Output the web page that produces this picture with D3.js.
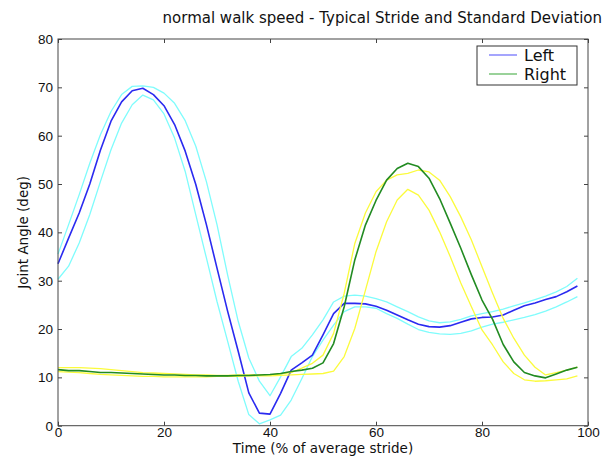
<!DOCTYPE html>
<html>
<head>
<meta charset="utf-8">
<script src="https://cdn.jsdelivr.net/npm/d3@7"></script>
<style>
    body { margin: 0; background: #fff; }
    svg { display: block; font-family: "DejaVu Sans", sans-serif; }
    .frame { fill: none; stroke: #444; stroke-width: 1; }
    .tick-label { font-size: 13.5px; fill: #111; }
    .series { fill: none; stroke-linejoin: round; }
</style>
</head>
<body>
<script>
// Stride samples, every 2 % of the stride
const stride = d3.range(0, 100, 2);

const leftMean = [33.5, 38.8, 44, 50, 57, 63, 67, 69.3, 69.8, 68.5, 66.2, 62.3, 56.8, 49.9, 41.6, 32.6, 23.7, 15.4, 6.8, 2.6,
    2.4, 6.7, 11.5, 13, 14.6, 18.8, 23.2, 25.3, 25.3, 25.2, 24.7, 23.9, 22.9, 21.9, 21, 20.5, 20.4, 20.7, 21.4, 22.1,
    22.4, 22.5, 22.9, 23.9, 24.8, 25.4, 26.1, 26.7, 27.7, 28.9];
const leftUpper = [35.5, 41.6, 47.8, 54.3, 60.2, 65, 68.5, 70.2, 70.3, 70, 68.8, 66.7, 63.1, 57.8, 50.5, 41.6, 31.2, 21.6, 14, 9.2,
    6.2, 10.1, 14.3, 16, 18.8, 21.9, 25.6, 26.8, 27, 26.8, 26.3, 25.6, 24.6, 23.6, 22.5, 21.7, 21.3, 21.5, 22, 22.7,
    23.2, 23.6, 24.1, 24.8, 25.4, 26.1, 26.8, 27.7, 28.8, 30.5];
const leftLower = [30.3, 33, 37.8, 43.7, 50.5, 57.1, 62.6, 66.4, 68.4, 67.4, 64.5, 59.5, 52.6, 43.6, 34.7, 25.7, 17.5, 9.2, 2.3, 0.4,
    1.2, 2.2, 5.3, 9.7, 14.3, 17.7, 20.8, 23.6, 24.6, 24.6, 24.3, 23.2, 22.2, 21, 19.9, 19.3, 19, 18.9, 19.1, 19.6,
    20.4, 21, 21.4, 21.9, 22.4, 23, 23.7, 24.6, 25.6, 26.7];

const rightMean = [11.6, 11.4, 11.4, 11.2, 11, 11, 10.9, 10.8, 10.7, 10.6, 10.5, 10.5, 10.4, 10.4, 10.3, 10.3, 10.3, 10.4, 10.4, 10.5,
    10.6, 10.8, 11.2, 11.5, 11.9, 13, 17, 24.6, 34.3, 41.5, 46.6, 50.8, 53.2, 54.3, 53.6, 51.2, 47, 41.9, 36.7, 31.2,
    26, 22, 16.8, 13.2, 11, 10.3, 9.9, 10.7, 11.5, 12.1];
const rightUpper = [12, 12, 12, 11.9, 11.8, 11.6, 11.4, 11.2, 11, 10.9, 10.8, 10.7, 10.6, 10.5, 10.5, 10.4, 10.4, 10.5, 10.5, 10.5,
    10.5, 10.7, 11, 11.9, 12.9, 14.6, 19.1, 27.4, 37.7, 44, 48.4, 50.8, 51.9, 52.2, 52.9, 52.5, 50.8, 47.4, 43.2, 38.4,
    32.9, 27.4, 22.2, 18.1, 14.6, 12.1, 10.5, 11, 11.5, 12.1];
const rightLower = [11.2, 11.1, 11, 10.8, 10.6, 10.5, 10.4, 10.3, 10.2, 10.2, 10.1, 10.1, 10.1, 10.1, 10.1, 10.2, 10.2, 10.2, 10.3, 10.3,
    10.3, 10.4, 10.5, 10.6, 10.7, 10.8, 11.3, 14.3, 20.1, 28, 36, 42.2, 46.7, 48.9, 47.7, 44.6, 40.1, 35, 29.5, 24.6,
    19.8, 16.7, 13.2, 10.8, 9.5, 9.2, 9.3, 9.5, 9.7, 10.3];

const xTicks = [0, 20, 40, 60, 80, 100];
const yTicks = [0, 10, 20, 30, 40, 50, 60, 70, 80];

const TITLE = "normal walk speed - Typical Stride and Standard Deviation";

const W = 611, H = 456;
const M = { left: 58, right: 588, top: 39, bottom: 425.7 };

const svg = d3.select("body").append("svg")
    .attr("width", W)
    .attr("height", H);

const x = d3.scaleLinear().domain([0, 100]).range([M.left, M.right]);
const y = d3.scaleLinear().domain([0, 80]).range([M.bottom, M.top]);

// lines: bands first, means on top
const series = [
    { values: leftUpper, color: "#7ffcfc", width: 1.3 },
    { values: leftLower, color: "#7ffcfc", width: 1.3 },
    { values: leftMean, color: "#2a2af0", width: 1.6 },
    { values: rightUpper, color: "#fbfb3c", width: 1.3 },
    { values: rightLower, color: "#fbfb3c", width: 1.3 },
    { values: rightMean, color: "#228b22", width: 1.6 }
];

const line = d3.line()
    .x((d, i) => x(stride[i]))
    .y(d => y(d));

svg.append("g")
    .selectAll("path")
    .data(series)
    .join("path")
    .attr("class", "series")
    .attr("stroke", d => d.color)
    .attr("stroke-width", d => d.width)
    .attr("d", d => line(d.values));

// axes with inward ticks on all sides
const tickLen = 4;
const axes = svg.append("g");

axes.append("g")
    .attr("transform", `translate(0,${M.bottom})`)
    .call(d3.axisBottom(x).tickValues(xTicks).tickSizeInner(-tickLen).tickSizeOuter(0).tickPadding(2))
    .call(g => g.select(".domain").remove())
    .call(g => g.selectAll("line").attr("stroke", "#444"))
    .call(g => g.selectAll("text").attr("class", "tick-label").attr("font-family", null).attr("font-size", null));

axes.append("g")
    .attr("transform", `translate(0,${M.top})`)
    .call(d3.axisTop(x).tickValues(xTicks).tickSizeInner(-tickLen).tickSizeOuter(0).tickFormat(""))
    .call(g => g.select(".domain").remove())
    .call(g => g.selectAll("line").attr("stroke", "#444"));

axes.append("g")
    .attr("transform", `translate(${M.left},0)`)
    .call(d3.axisLeft(y).tickValues(yTicks).tickSizeInner(-tickLen).tickSizeOuter(0).tickPadding(5))
    .call(g => g.select(".domain").remove())
    .call(g => g.selectAll("line").attr("stroke", "#444"))
    .call(g => g.selectAll("text").attr("class", "tick-label").attr("font-family", null).attr("font-size", null));

axes.append("g")
    .attr("transform", `translate(${M.right},0)`)
    .call(d3.axisRight(y).tickValues(yTicks).tickSizeInner(-tickLen).tickSizeOuter(0).tickFormat(""))
    .call(g => g.select(".domain").remove())
    .call(g => g.selectAll("line").attr("stroke", "#444"));

svg.append("rect")
    .attr("class", "frame")
    .attr("x", M.left)
    .attr("y", M.top)
    .attr("width", M.right - M.left)
    .attr("height", M.bottom - M.top);

// title and axis labels
svg.append("text")
    .attr("x", 602)
    .attr("y", 23)
    .attr("text-anchor", "end")
    .attr("font-size", 15)
    .attr("fill", "#111")
    .text(TITLE);

svg.append("text")
    .attr("x", (M.left + M.right) / 2)
    .attr("y", 453)
    .attr("text-anchor", "middle")
    .attr("font-size", 13.5)
    .attr("fill", "#111")
    .text("Time (% of average stride)");

svg.append("text")
    .attr("transform", `translate(28,${(M.top + M.bottom) / 2}) rotate(-90)`)
    .attr("text-anchor", "middle")
    .attr("font-size", 13.5)
    .attr("fill", "#111")
    .text("Joint Angle (deg)");

// legend
const legendItems = [
    { label: "Left", color: "#7f7ffc" },
    { label: "Right", color: "#6fbf6f" }
];

const legend = svg.append("g").attr("transform", "translate(477,46)");

legend.append("rect")
    .attr("width", 100)
    .attr("height", 39)
    .attr("fill", "#fff")
    .attr("stroke", "#333")
    .attr("stroke-width", 1);

const item = legend.selectAll("g.item")
    .data(legendItems)
    .join("g")
    .attr("class", "item")
    .attr("transform", (d, i) => `translate(0,${9 + i * 19})`);

item.append("line")
    .attr("x1", 12).attr("x2", 40)
    .attr("stroke", d => d.color)
    .attr("stroke-width", 1.4);

item.append("text")
    .attr("x", 47)
    .attr("dy", "0.36em")
    .attr("font-size", 16)
    .attr("fill", "#111")
    .text(d => d.label);
</script>
</body>
</html>
